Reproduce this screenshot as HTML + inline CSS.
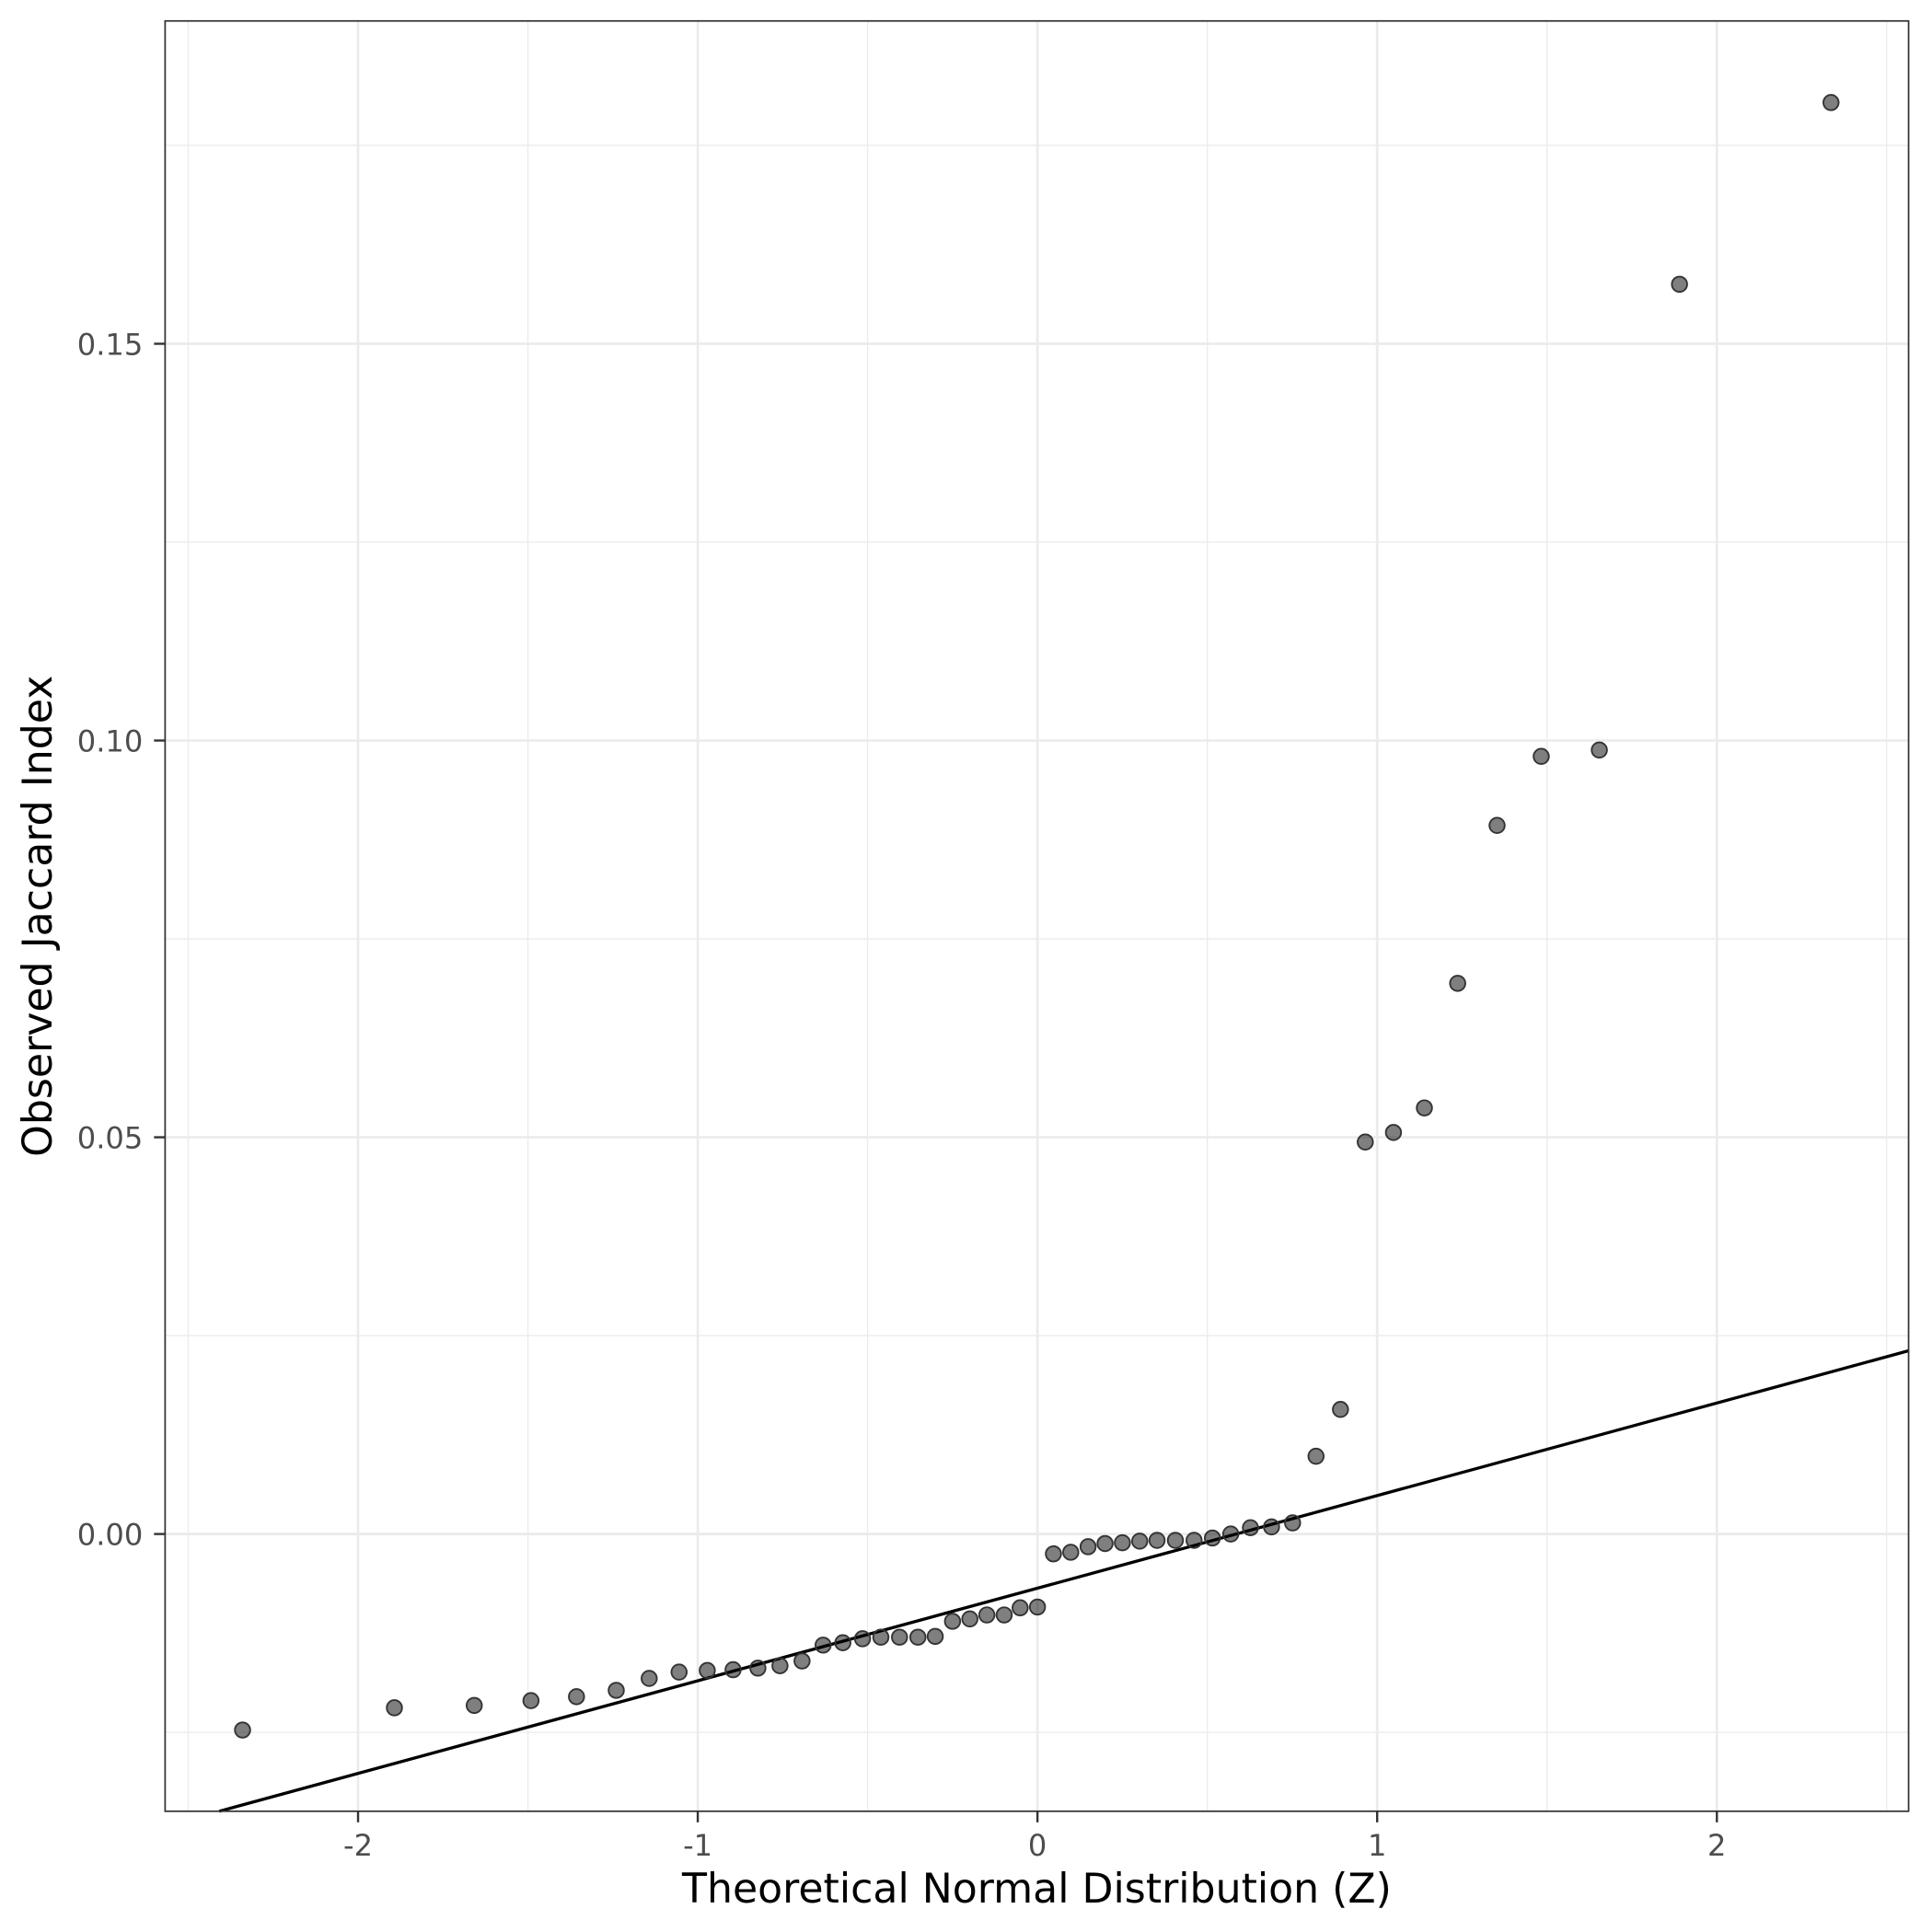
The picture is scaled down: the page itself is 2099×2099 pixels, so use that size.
<!DOCTYPE html>
<html><head><meta charset="utf-8"><style>
html,body{margin:0;padding:0;background:#fff}
svg{display:block}
text{font-family:"DejaVu Sans","Liberation Sans",sans-serif}
</style></head><body>
<svg id="chart" width="2099" height="2099" viewBox="0 0 1568 1568" xmlns="http://www.w3.org/2000/svg">
<rect width="1568" height="1568" fill="#fff"/>
<g id="grid"></g><g id="marks"></g><g id="axes"></g>
</svg>
<script>
const theoretical=[-2.34,-1.893,-1.658,-1.491,-1.357,-1.240,-1.143,-1.055,-0.972,-0.896,-0.823,-0.758,-0.693,-0.631,-0.573,-0.515,-0.461,-0.406,-0.352,-0.301,-0.250,-0.199,-0.149,-0.098,-0.051,0,0.047,0.098,0.149,0.199,0.250,0.301,0.352,0.406,0.461,0.515,0.569,0.627,0.689,0.751,0.820,0.892,0.965,1.048,1.139,1.237,1.353,1.483,1.654,1.890,2.336];
const observed=[-0.0247,-0.0219,-0.0216,-0.021,-0.0205,-0.0197,-0.0182,-0.0174,-0.0172,-0.0171,-0.0169,-0.0166,-0.016,-0.014,-0.0137,-0.0132,-0.013,-0.013,-0.013,-0.0129,-0.011,-0.0107,-0.0102,-0.0102,-0.0093,-0.0092,-0.0025,-0.0023,-0.0016,-0.0012,-0.0011,-0.0009,-0.0008,-0.0008,-0.0008,-0.0005,0,0.0008,0.0009,0.0014,0.0098,0.0157,0.0494,0.0506,0.0537,0.0694,0.0893,0.098,0.0988,0.1575,0.1804];
const xTicks=[-2,-1,0,1,2];
const xTickLabels=["-2","-1","0","1","2"];
const yTicks=[0,0.05,0.10,0.15];
const yTickLabels=["0.00","0.05","0.10","0.15"];
const xMinor=[-2.5,-1.5,-0.5,0.5,1.5,2.5];
const yMinor=[-0.025,0.025,0.075,0.125,0.175];
const lineSlope=[0.01167];
const lineIntercept=[-0.00683];

const L=134,R=1549,T=17,B=1470;
const sx=v=>842+v*275.7;
const sy=v=>1245-v*6440;
const NS="http://www.w3.org/2000/svg";
function mk(parent,tag,attrs){const e=document.createElementNS(NS,tag);for(const k in attrs)e.setAttribute(k,attrs[k]);parent.appendChild(e);return e;}
const grid=document.getElementById('grid'),marks=document.getElementById('marks'),axes=document.getElementById('axes');
xMinor.forEach(v=>{const e=mk(grid,'line',{x1:sx(v),x2:sx(v),y1:T,y2:B,stroke:'#ebebeb','stroke-width':1});

});
yMinor.forEach(v=>{const e=mk(grid,'line',{x1:L,x2:R,y1:sy(v),y2:sy(v),stroke:'#ebebeb','stroke-width':1});

});
xTicks.forEach(v=>{const e=mk(grid,'line',{x1:sx(v),x2:sx(v),y1:T,y2:B,stroke:'#ebebeb','stroke-width':2});

});
yTicks.forEach(v=>{const e=mk(grid,'line',{x1:L,x2:R,y1:sy(v),y2:sy(v),stroke:'#ebebeb','stroke-width':2});

});
const xa=(L-842)/275.7,xb=(R-842)/275.7;
let p1=[xa,lineIntercept[0]+lineSlope[0]*xa],p2=[xb,lineIntercept[0]+lineSlope[0]*xb];
const yBot=(1245-B)/6440;
if(p1[1]<yBot){p1=[(yBot-lineIntercept[0])/lineSlope[0],yBot];}
const ln=mk(marks,'line',{x1:sx(p1[0]),y1:sy(p1[1]),x2:sx(p2[0]),y2:sy(p2[1]),stroke:'#000','stroke-width':2.5});


theoretical.forEach((v,i)=>{const c=mk(marks,'circle',{cx:sx(v),cy:sy(observed[i]),r:6.2,fill:'#000','fill-opacity':0.5,stroke:'#333','stroke-width':1.4});

});
const fr=mk(axes,'rect',{x:L,y:T,width:R-L,height:B-T,fill:'none',stroke:'#333','stroke-width':1.3});


xTicks.forEach((v,i)=>{const t=mk(axes,'line',{x1:sx(v),x2:sx(v),y1:B,y2:B+9,stroke:'#333','stroke-width':1.8});


const l=mk(axes,'text',{x:sx(v),y:1506,'text-anchor':'middle','font-size':24,fill:'#4d4d4d'});l.textContent=xTickLabels[i];

});
yTicks.forEach((v,i)=>{const t=mk(axes,'line',{x1:L-9,x2:L,y1:sy(v),y2:sy(v),stroke:'#333','stroke-width':1.8});


const l=mk(axes,'text',{x:116,y:sy(v)+9,'text-anchor':'end','font-size':24,fill:'#4d4d4d'});l.textContent=yTickLabels[i];

});
const xt=mk(axes,'text',{x:(L+R)/2,y:1544,'text-anchor':'middle','font-size':33,fill:'#000'});xt.textContent='Theoretical Normal Distribution (Z)';


const yt=mk(axes,'text',{x:0,y:0,'text-anchor':'middle','font-size':33,fill:'#000',transform:`translate(42,${(T+B)/2}) rotate(-90)`});yt.textContent='Observed Jaccard Index';


</script>
</body></html>
